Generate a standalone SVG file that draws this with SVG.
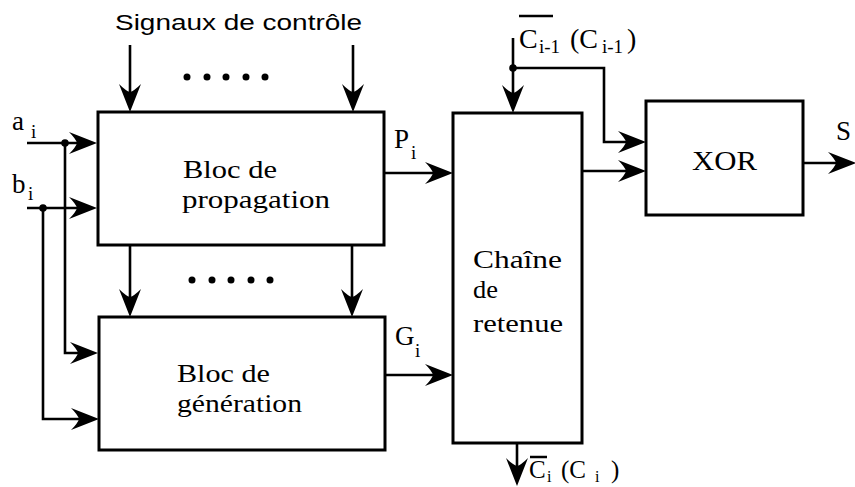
<svg xmlns="http://www.w3.org/2000/svg" width="855" height="487" viewBox="0 0 855 487">
<style>
.box{fill:#fff;stroke:#000;stroke-width:3}
.ln{fill:none;stroke:#000;stroke-width:2.6}
.arr{marker-end:url(#ah)}
.dash{fill:none;stroke:#000;stroke-width:2.6;stroke-dasharray:7 8}
.t{font-family:"Liberation Serif","Times New Roman","DejaVu Serif",serif;font-size:25px;fill:#000}
.s{font-family:"Liberation Serif","Times New Roman","DejaVu Serif",serif;font-size:19px;fill:#000}
.sans{font-family:"Liberation Sans Narrow","Liberation Sans",Arial,sans-serif;font-size:22px;fill:#000}
</style>
<defs>
<marker id="ah" markerUnits="userSpaceOnUse" viewBox="-22 -13 34 26" markerWidth="34" markerHeight="26" refX="0" refY="0" orient="auto">
<path d="M10,0 L-18,-11 Q-11,-4 -10,0 Q-11,4 -18,11 Z" fill="#000"/>
</marker>
</defs>
<rect width="855" height="487" fill="#fff"/>
<g id="connectors">
<line class="ln arr" x1="130" y1="45" x2="130" y2="102"/>
<line class="ln arr" x1="353" y1="45" x2="353" y2="102"/>
<line class="ln arr" x1="130" y1="245" x2="130" y2="307"/>
<line class="ln arr" x1="352" y1="245" x2="352" y2="307"/>
<line class="ln arr" x1="27" y1="143" x2="87" y2="143"/>
<polyline class="ln arr" points="65,143 65,353 88,353"/>
<line class="ln arr" x1="27" y1="208" x2="87" y2="208"/>
<polyline class="ln arr" points="43,208 43,419 89,419"/>
<line class="ln arr" x1="384" y1="173" x2="443" y2="173"/>
<line class="dash" x1="456" y1="173" x2="580" y2="173"/>
<line class="ln arr" x1="582" y1="171" x2="636" y2="171"/>
<line class="ln arr" x1="385" y1="375" x2="443" y2="375"/>
<line class="ln arr" x1="513" y1="38" x2="513" y2="103"/>
<polyline class="ln arr" points="513,68 604,68 604,142 636,142"/>
<line class="ln arr" x1="803" y1="163" x2="846" y2="163"/>
<line class="ln arr" x1="517" y1="443" x2="517" y2="476"/>
<circle cx="65" cy="143" r="3.8"/>
<circle cx="43" cy="208" r="3.8"/>
<circle cx="513" cy="68" r="3.8"/>
</g>
<g id="signaux">
<text class="sans" x="115" y="30" textLength="247" lengthAdjust="spacingAndGlyphs">Signaux de contrôle</text>
<circle cx="187" cy="77" r="3.5"/><circle cx="207" cy="77" r="3.5"/><circle cx="226" cy="77" r="3.5"/><circle cx="246" cy="77" r="3.5"/><circle cx="265" cy="77" r="3.5"/>
<circle cx="192" cy="280" r="3.5"/><circle cx="212" cy="280" r="3.5"/><circle cx="231" cy="280" r="3.5"/><circle cx="251" cy="280" r="3.5"/><circle cx="270" cy="280" r="3.5"/>
</g>
<g id="inputs">
<text class="t" x="12" y="130" style="font-size:27px">a</text><text class="s" x="31" y="138">i</text>
<text class="t" x="12" y="193" style="font-size:27px">b</text><text class="s" x="28" y="200">i</text>
</g>
<g id="propagation">
<rect class="box" x="98" y="112" width="286" height="133"/>
<text class="t" x="183" y="178" textLength="94" lengthAdjust="spacingAndGlyphs">Bloc de</text>
<text class="t" x="182" y="208" textLength="148" lengthAdjust="spacingAndGlyphs">propagation</text>
<text class="t" x="394" y="148" style="font-size:27px">P</text><text class="s" x="411" y="159">i</text>
</g>
<g id="generation">
<rect class="box" x="99" y="317" width="286" height="133"/>
<text class="t" x="177" y="382" textLength="93" lengthAdjust="spacingAndGlyphs">Bloc de</text>
<text class="t" x="177" y="412" textLength="125" lengthAdjust="spacingAndGlyphs">génération</text>
<text class="t" x="395" y="345" style="font-size:27px">G</text><text class="s" x="415" y="357">i</text>
</g>
<g id="chaine">
<rect class="box" x="453" y="113" width="129" height="330"/>
<text class="t" x="473" y="268" textLength="89" lengthAdjust="spacingAndGlyphs">Chaîne</text>
<text class="t" x="473" y="298" textLength="25" lengthAdjust="spacingAndGlyphs">de</text>
<text class="t" x="473" y="332" textLength="90" lengthAdjust="spacingAndGlyphs">retenue</text>
</g>
<g id="xor">
<rect class="box" x="646" y="101" width="157" height="114"/>
<text class="t" x="692" y="170" style="font-size:27px" textLength="65" lengthAdjust="spacingAndGlyphs">XOR</text>
<text class="t" x="836" y="140" style="font-size:27px">S</text>
</g>
<g id="carry-in">
<line x1="519" y1="16" x2="553" y2="16" stroke="#000" stroke-width="2.5"/>
<text class="t" x="519" y="48" style="font-size:28px">C</text><text class="s" x="539" y="53">i-1</text>
<text class="t" x="570" y="48" style="font-size:28px">(C</text><text class="s" x="602" y="53">i-1</text><text class="t" x="627" y="48" style="font-size:28px">)</text>
</g>
<g id="carry-out">
<line x1="530" y1="457" x2="547" y2="457" stroke="#000" stroke-width="2.5"/>
<text class="t" x="529" y="478" style="font-size:25px">C</text><text class="s" x="547" y="482" style="font-size:16px">i</text>
<text class="t" x="561" y="478" style="font-size:25px">(C</text><text class="s" x="595" y="482" style="font-size:16px">i</text><text class="t" x="611" y="478" style="font-size:25px">)</text>
</g>
</svg>
